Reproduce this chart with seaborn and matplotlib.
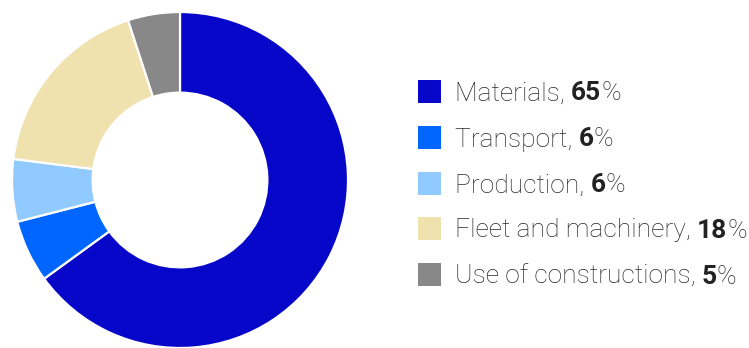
import matplotlib
matplotlib.use("Agg")
import matplotlib.pyplot as plt
import seaborn as sns
from matplotlib.patches import Rectangle

categories = ["Materials", "Transport", "Production", "Fleet and machinery", "Use of constructions"]
values = [65, 6, 6, 18, 5]
colors = ["#0707C9", "#0066FF", "#90CAFF", "#F0E2AE", "#888888"]

sns.set_theme(style="white")
plt.rcParams['font.family'] = ['Roboto', 'DejaVu Sans']

W, H = 749, 348
fig = plt.figure(figsize=(W / 100, H / 100), dpi=100)

cx, cy, R = 180, 180, 168
ax = fig.add_axes([(cx - R) / W, (H - cy - R) / H, 2 * R / W, 2 * R / H])
ax.pie(values, colors=colors, startangle=90, counterclock=False, radius=1,
       wedgeprops=dict(width=0.48, edgecolor="white", linewidth=1.6))
ax.set_xlim(-1, 1)
ax.set_ylim(-1, 1)
ax.set_aspect("equal")
ax.axis("off")

# legend
fig.canvas.draw()
renderer = fig.canvas.get_renderer()
row_y = [91, 137, 183, 228, 274]
sq = 23
fs = 19
for cat, val, col, yy in zip(categories, values, colors, row_y):
    fig.patches.append(Rectangle((418 / W, (H - yy - sq / 2) / H), sq / W, sq / H,
                                 transform=fig.transFigure, facecolor=col, edgecolor="none"))
    t1 = fig.text(455 / W, (H - yy) / H, f"{cat}, ", fontsize=fs, fontweight="light",
                  color="#2a2a2a", va="center_baseline", ha="left")
    bb = t1.get_window_extent(renderer)
    t2 = fig.text(bb.x1 / W, (H - yy) / H, f"{val}", fontsize=fs, fontweight="bold",
                  color="#222222", va="center_baseline", ha="left")
    bb2 = t2.get_window_extent(renderer)
    fig.text(bb2.x1 / W, (H - yy) / H, "%", fontsize=fs, fontweight="light",
             color="#2a2a2a", va="center_baseline", ha="left")

fig.savefig("out.png", dpi=100)
